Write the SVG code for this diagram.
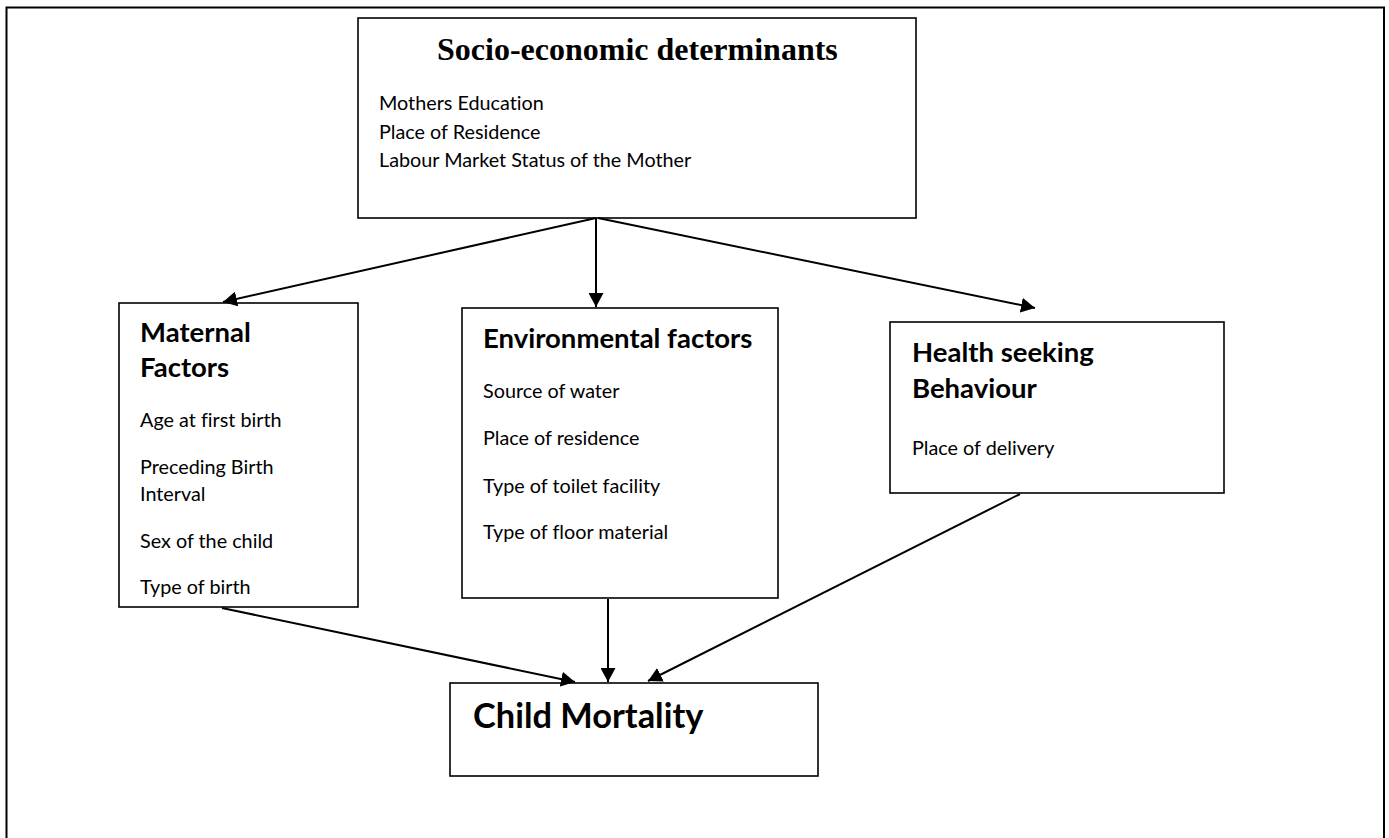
<svg xmlns="http://www.w3.org/2000/svg" width="1389" height="838" viewBox="0 0 1389 838">
<style>
.box{fill:#fff;stroke:#000;stroke-width:1.6}
.frame{fill:none;stroke:#000;stroke-width:2}
.conn{stroke:#000;stroke-width:2;fill:none}
.h{font-family:Lato,"Noto Sans",sans-serif;font-weight:bold;font-size:27.5px;fill:#000;font-variant-ligatures:none}
.b{font-family:Lato,"Noto Sans",sans-serif;font-size:19.8px;fill:#000;font-variant-ligatures:none}
.serif{font-family:"Liberation Serif","Times New Roman",serif;font-weight:bold;font-size:32px;fill:#000}
</style>
<defs>
<marker id="arr" markerUnits="userSpaceOnUse" markerWidth="15" markerHeight="15" refX="14" refY="7.5" orient="auto">
<path d="M0,0 L14,7.5 L0,15 Z" fill="#000"/>
</marker>
</defs>
<rect width="1389" height="838" fill="#fff"/>
<rect class="frame" x="6.5" y="7.5" width="1377.5" height="900"/>
<g id="socio">
<rect class="box" x="358" y="18" width="558" height="200"/>
<text class="serif" x="437" y="60">Socio-economic determinants</text>
<text class="b" x="379" y="110">Mothers Education</text>
<text class="b" x="379" y="138.5">Place of Residence</text>
<text class="b" x="379" y="167">Labour Market Status of the Mother</text>
</g>
<g id="maternal">
<rect class="box" x="119" y="303" width="239" height="304"/>
<text class="h" x="140" y="342">Maternal</text>
<text class="h" x="140" y="377">Factors</text>
<text class="b" x="140" y="427">Age at first birth</text>
<text class="b" x="140" y="474">Preceding Birth</text>
<text class="b" x="140" y="501">Interval</text>
<text class="b" x="140" y="548">Sex of the child</text>
<text class="b" x="140" y="594">Type of birth</text>
</g>
<g id="environmental">
<rect class="box" x="462" y="308" width="316" height="290"/>
<text class="h" x="483" y="348">Environmental factors</text>
<text class="b" x="483" y="398">Source of water</text>
<text class="b" x="483" y="445">Place of residence</text>
<text class="b" x="483" y="493">Type of toilet facility</text>
<text class="b" x="483" y="539">Type of floor material</text>
</g>
<g id="health">
<rect class="box" x="890" y="322" width="334" height="171"/>
<text class="h" x="912" y="362">Health seeking</text>
<text class="h" x="912" y="398">Behaviour</text>
<text class="b" x="912" y="455">Place of delivery</text>
</g>
<g id="child">
<rect class="box" x="450" y="683" width="368" height="93"/>
<text class="h" x="473" y="728" font-size="34.4px" style="font-size:34.4px">Child Mortality</text>
</g>
<g id="connectors">
<line class="conn" x1="596" y1="218" x2="223" y2="302" marker-end="url(#arr)"/>
<line class="conn" x1="596" y1="218" x2="596" y2="307" marker-end="url(#arr)"/>
<line class="conn" x1="598" y1="218" x2="1035" y2="308" marker-end="url(#arr)"/>
<line class="conn" x1="222" y1="608" x2="575" y2="682" marker-end="url(#arr)"/>
<line class="conn" x1="608" y1="599" x2="608" y2="682" marker-end="url(#arr)"/>
<line class="conn" x1="1020" y1="494" x2="648" y2="681" marker-end="url(#arr)"/>
</g>
</svg>
